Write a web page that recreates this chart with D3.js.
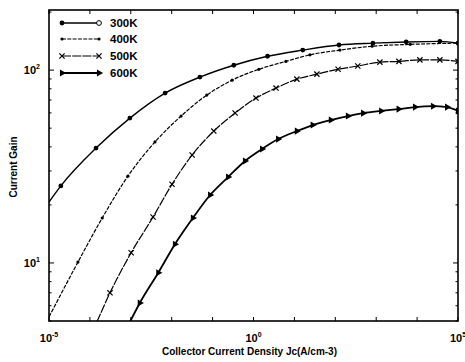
<!DOCTYPE html>
<html>
<head>
<meta charset="utf-8">
<script src="https://cdn.jsdelivr.net/npm/d3@7"></script>
<style>
  body { margin: 0; background: #fff; }
  text { font-family: "Liberation Sans", Arial, sans-serif; fill: #000; }
</style>
</head>
<body>
<div id="chart"></div>
<script>
// chart size
var svgWidth = 465;
var svgHeight = 362;

var margin = { top: 10, right: 7, bottom: 41, left: 49 };
var chartWidth = svgWidth - margin.left - margin.right;
var chartHeight = svgHeight - margin.top - margin.bottom;

// data
var seriesNames = ["300K", "400K", "500K", "600K"];

var jc300 = [1e-5, 1.95e-5, 1.41e-4, 9.5e-4, 6.9e-3, 0.049, 0.33, 2.2, 16, 123, 830, 5.4e3, 3.6e4, 1e5];
var gain300 = [20.7, 25.1, 39.4, 56.4, 76.0, 92.0, 106, 118, 127, 135, 138, 140, 141, 138];

var jc400 = [1e-5, 5.1e-5, 2.0e-4, 8.5e-4, 3.9e-3, 0.017, 0.072, 0.30, 1.35, 6.2, 24, 129, 794, 6.8e3, 1e5];
var gain400 = [5.25, 10.1, 17.1, 28.2, 42.4, 57.8, 74.2, 88.7, 101, 111, 120, 127, 133, 136, 138];

var jc500 = [1.48e-4, 3.1e-4, 1.02e-3, 3.5e-3, 0.0102, 0.0316, 0.107, 0.355, 1.15, 3.55, 11.5, 35.5, 117, 355, 1.23e3, 3.6e3, 1.17e4, 3.6e4, 1e5];
var gain500 = [4.94, 7.0, 11.3, 17.3, 25.6, 36.3, 48.3, 59.9, 71.6, 80.7, 89.8, 95.3, 101, 105, 110, 111, 113, 113, 111];

var jc600 = [9.5e-4, 1.66e-3, 4.7e-3, 0.012, 0.033, 0.087, 0.24, 0.62, 1.62, 4.0, 11.5, 28, 78, 204, 479, 1.32e3, 3.53e3, 8.9e3, 2.45e4, 5.4e4, 1e5];
var gain600 = [4.94, 6.2, 8.9, 12.5, 17.1, 22.5, 27.9, 33.8, 39.0, 43.9, 48.3, 51.9, 55.1, 57.8, 59.8, 61.4, 62.8, 64.3, 65.0, 64.3, 61.4];

var xTicks = [1e-5, 1e-4, 1e-3, 1e-2, 1e-1, 1, 10, 100, 1e3, 1e4, 1e5];
var xTickLabels = [["10", "-5"], ["10", "0"], ["10", "5"]];
var xLabelAt = [1e-5, 1, 1e5];
var yLabelAt = [10, 100];
var yTickLabels = [["10", "1"], ["10", "2"]];

var series = [
  { name: seriesNames[0], x: jc300, y: gain300, marker: "circle", dash: null, width: 1.4 },
  { name: seriesNames[1], x: jc400, y: gain400, marker: "dot", dash: "4,1.3", width: 1.2 },
  { name: seriesNames[2], x: jc500, y: gain500, marker: "cross", dash: "9,1.2", width: 1.2 },
  { name: seriesNames[3], x: jc600, y: gain600, marker: "triangle", dash: null, width: 1.8 }
];

var svg = d3.select("#chart")
  .append("svg")
  .attr("width", svgWidth)
  .attr("height", svgHeight);

var chartGroup = svg.append("g")
  .attr("transform", `translate(${margin.left}, ${margin.top})`);

var xScale = d3.scaleLog().domain([1e-5, 1e5]).range([0, chartWidth]);
var yScale = d3.scaleLog().domain([5, 205]).range([chartHeight, 0]);

// frame
chartGroup.append("rect")
  .attr("width", chartWidth)
  .attr("height", chartHeight)
  .attr("fill", "none")
  .attr("stroke", "#000")
  .attr("stroke-width", 1.6);

// ticks, inward on all four sides
var yMinor = [5, 6, 7, 8, 9, 20, 30, 40, 50, 60, 70, 80, 90, 200];
var ticks = chartGroup.append("g").attr("stroke", "#000").attr("stroke-width", 1);
xTicks.forEach(function(t) {
  ticks.append("line").attr("x1", xScale(t)).attr("x2", xScale(t)).attr("y1", chartHeight).attr("y2", chartHeight - 4);
  ticks.append("line").attr("x1", xScale(t)).attr("x2", xScale(t)).attr("y1", 0).attr("y2", 4);
});
yLabelAt.forEach(function(t) {
  ticks.append("line").attr("x1", 0).attr("x2", 5).attr("y1", yScale(t)).attr("y2", yScale(t));
  ticks.append("line").attr("x1", chartWidth).attr("x2", chartWidth - 5).attr("y1", yScale(t)).attr("y2", yScale(t));
});
yMinor.forEach(function(t) {
  ticks.append("line").attr("x1", 0).attr("x2", 2.5).attr("y1", yScale(t)).attr("y2", yScale(t));
  ticks.append("line").attr("x1", chartWidth).attr("x2", chartWidth - 2.5).attr("y1", yScale(t)).attr("y2", yScale(t));
});

// tick labels with superscripts
xLabelAt.forEach(function(t, i) {
  var tx = chartGroup.append("text")
    .attr("x", xScale(t))
    .attr("y", chartHeight + 21)
    .attr("text-anchor", "middle")
    .style("font-size", "11px")
    .style("font-weight", "bold");
  tx.append("tspan").text(xTickLabels[i][0]);
  tx.append("tspan").attr("dy", -5).style("font-size", "7px").text(xTickLabels[i][1]);
});
yLabelAt.forEach(function(t, i) {
  var tx = chartGroup.append("text")
    .attr("x", -9)
    .attr("y", yScale(t) + 4)
    .attr("text-anchor", "end")
    .style("font-size", "11px")
    .style("font-weight", "bold");
  tx.append("tspan").text(yTickLabels[i][0]);
  tx.append("tspan").attr("dy", -5).style("font-size", "7px").text(yTickLabels[i][1]);
});

// axis titles
svg.append("text")
  .attr("x", margin.left + chartWidth / 2 - 4)
  .attr("y", 355)
  .attr("text-anchor", "middle")
  .style("font-size", "10px")
  .style("font-weight", "bold")
  .text("Collector Current Density Jc(A/cm-3)");

svg.append("text")
  .attr("transform", "translate(17, 167) rotate(-90)")
  .attr("text-anchor", "middle")
  .style("font-size", "10px")
  .style("font-weight", "bold")
  .text("Current Gain");

// curves
chartGroup.append("clipPath").attr("id", "plotClip")
  .append("rect").attr("width", chartWidth).attr("height", chartHeight);

var line = d3.line()
  .x(d => xScale(d[0]))
  .y(d => yScale(d[1]))
  .curve(d3.curveMonotoneX);

function drawMarker(g, type, x, y) {
  if (type === "circle") {
    g.append("circle").attr("cx", x).attr("cy", y).attr("r", 2.4).attr("fill", "#000");
  } else if (type === "dot") {
    g.append("circle").attr("cx", x).attr("cy", y).attr("r", 1.6).attr("fill", "#000");
  } else if (type === "cross") {
    g.append("path")
      .attr("d", `M${x - 2.6},${y - 2.6}L${x + 2.6},${y + 2.6}M${x - 2.6},${y + 2.6}L${x + 2.6},${y - 2.6}`)
      .attr("stroke", "#000").attr("stroke-width", 1.2);
  } else {
    g.append("path")
      .attr("d", d3.symbol().type(d3.symbolTriangle).size(22)())
      .attr("transform", `translate(${x},${y}) rotate(90)`)
      .attr("fill", "#000");
  }
}

var plot = chartGroup.append("g").attr("clip-path", "url(#plotClip)");

series.forEach(function(s) {
  var pts = s.x.map((v, i) => [v, s.y[i]]);
  plot.append("path")
    .datum(pts)
    .attr("d", line)
    .attr("fill", "none")
    .attr("stroke", "#000")
    .attr("stroke-width", s.width)
    .attr("stroke-dasharray", s.dash);
  var mg = plot.append("g");
  pts.slice(1).forEach(function(p) {
    drawMarker(mg, s.marker, xScale(p[0]), yScale(p[1]));
  });
});

// legend
var legendY = [13, 29, 46, 63];
var legend = chartGroup.append("g");
series.forEach(function(s, i) {
  var y = legendY[i];
  legend.append("line")
    .attr("x1", 13).attr("x2", 50).attr("y1", y).attr("y2", y)
    .attr("stroke", "#000")
    .attr("stroke-width", s.width)
    .attr("stroke-dasharray", s.dash);
  drawMarker(legend, s.marker, 13, y);
  if (s.marker === "circle") {
    legend.append("circle").attr("cx", 50).attr("cy", y).attr("r", 2.4)
      .attr("fill", "#fff").attr("stroke", "#000").attr("stroke-width", 1);
  } else {
    drawMarker(legend, s.marker, 50, y);
  }
  legend.append("text")
    .attr("x", 61)
    .attr("y", y + 4)
    .style("font-size", "11.5px")
    .style("font-weight", "bold")
    .text(s.name);
});
</script>
</body>
</html>
